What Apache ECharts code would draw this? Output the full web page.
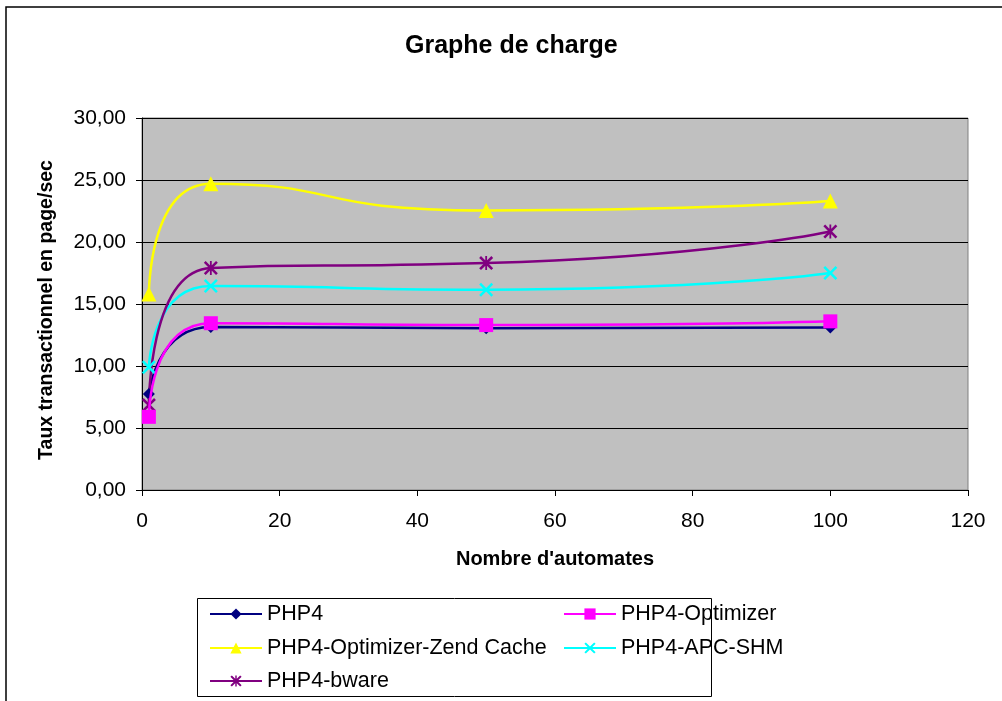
<!DOCTYPE html>
<html><head><meta charset="utf-8">
<script src="https://cdn.jsdelivr.net/npm/echarts@6/dist/echarts.min.js"></script>
<style>html,body{margin:0;padding:0;background:#fff}#c{width:1002px;height:701px}</style>
</head><body><div id="c"></div>
<script>
var xValues = [1, 10, 50, 100];
var seriesNames = ['PHP4', 'PHP4-Optimizer', 'PHP4-Optimizer-Zend Cache', 'PHP4-APC-SHM', 'PHP4-bware'];
var php4 = [7.75, 13.15, 13.05, 13.1];
var php4Optimizer = [5.9, 13.45, 13.3, 13.6];
var php4Zend = [15.8, 24.7, 22.55, 23.3];
var php4Apc = [9.9, 16.45, 16.15, 17.5];
var php4Bware = [6.85, 17.9, 18.3, 20.85];
var yTicks = [0, 5, 10, 15, 20, 25, 30];
var xTicks = [0, 20, 40, 60, 80, 100, 120];

var FONT = '"Liberation Sans", Arial, sans-serif';
var colors = ['#000080', '#FF00FF', '#FFFF00', '#00FFFF', '#800080'];
var xPath = 'path://M0,1.3 L1.3,0 L5,3.7 L8.7,0 L10,1.3 L6.3,5 L10,8.7 L8.7,10 L5,6.3 L1.3,10 L0,8.7 L3.7,5 Z';
var starPath = 'path://M0,1.3 L1.3,0 L5,3.7 L8.7,0 L10,1.3 L6.3,5 L10,8.7 L8.7,10 L5,6.3 L1.3,10 L0,8.7 L3.7,5 Z M4.35,0 L5.65,0 L5.65,10 L4.35,10 Z';
var symbols = ['diamond', 'rect', 'triangle', xPath, starPath];
var sizes = [12, 14, 15, 14, 14];
var values = [php4, php4Optimizer, php4Zend, php4Apc, php4Bware];

function pair(v) { return xValues.map(function (x, i) { return [x, v[i]]; }); }

var series = seriesNames.map(function (n, i) {
  return {
    name: n, type: 'line', data: pair(values[i]), smooth: 0.65,
    symbol: symbols[i], symbolSize: sizes[i], showAllSymbol: true,
    itemStyle: { color: colors[i] },
    lineStyle: { color: colors[i], width: 2.5 },
    z: 3 + (i === 1 ? 1 : 0)
  };
});

var legendPos = [[209, 603], [563, 603], [209, 637], [563, 637], [209, 670]];
var legends = seriesNames.map(function (n, i) {
  return {
    data: [n], left: legendPos[i][0], top: legendPos[i][1], padding: 0,
    itemWidth: 52, itemHeight: 14, itemGap: 5, selectedMode: false,
    textStyle: { fontFamily: FONT, fontSize: 21.5, color: '#000', padding: [0, 0, 0, 0] }
  };
});

var chart = echarts.init(document.getElementById('c'));
chart.setOption({
  backgroundColor: '#ffffff',
  animation: false,
  title: {
    text: 'Graphe de charge', left: 400, top: 29,
    textStyle: { fontFamily: FONT, fontSize: 25, fontWeight: 'bold', color: '#000' }
  },
  grid: {
    left: 142, right: 34, top: 118, bottom: 211, show: true,
    backgroundColor: '#C0C0C0', borderColor: '#808080', borderWidth: 1
  },
  legend: legends,
  xAxis: {
    type: 'value', min: xTicks[0], max: xTicks[xTicks.length - 1], interval: 20,
    name: "Nombre d'automates", nameLocation: 'middle', nameGap: 59,
    nameTextStyle: { fontFamily: FONT, fontSize: 20, fontWeight: 'bold', color: '#000' },
    axisLine: { onZero: false, lineStyle: { color: '#000', width: 1 } },
    axisTick: { show: true, length: 6, lineStyle: { color: '#000' } },
    axisLabel: { fontFamily: FONT, fontSize: 21, color: '#000', margin: 21 },
    splitLine: { show: false }
  },
  yAxis: {
    type: 'value', min: yTicks[0], max: yTicks[yTicks.length - 1], interval: 5,
    name: 'Taux transactionnel en page/sec', nameLocation: 'middle', nameGap: 85,
    nameTextStyle: { fontFamily: FONT, fontSize: 19.5, fontWeight: 'bold', color: '#000', padding: [0, 12, 0, 0] },
    axisLine: { show: true, lineStyle: { color: '#000', width: 1 } },
    axisTick: { show: true, length: 6, lineStyle: { color: '#000' } },
    axisLabel: {
      fontFamily: FONT, fontSize: 21, color: '#000', margin: 16,
      formatter: function (v) { return v.toFixed(2).replace('.', ','); }
    },
    splitLine: { show: true, lineStyle: { color: '#000', width: 1 } }
  },
  graphic: [
    { type: 'rect', shape: { x: 6, y: 7, width: 1200, height: 900 },
      style: { fill: 'none', stroke: '#000', lineWidth: 1.5 }, z: 100, silent: true },
    { type: 'rect', shape: { x: 197.5, y: 598.5, width: 514, height: 98 },
      style: { fill: 'none', stroke: '#000', lineWidth: 1 }, z: 100, silent: true }
  ],
  series: series
});
</script></body></html>
